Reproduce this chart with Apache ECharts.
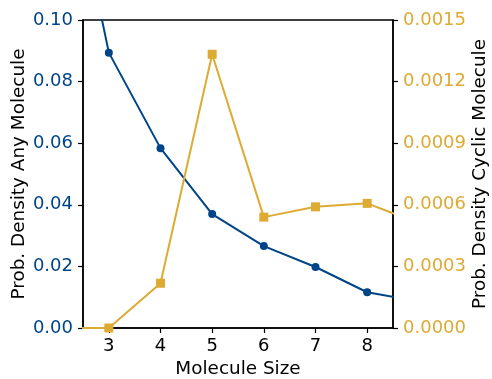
<!DOCTYPE html>
<html><head><meta charset="utf-8">
<script src="https://cdn.jsdelivr.net/npm/echarts@6/dist/echarts.min.js"></script>
<style>html,body{margin:0;padding:0;background:#fff}#c{width:492px;height:379px}</style>
</head><body><div id="c"></div>
<script>
const sizes = [2, 3, 4, 5, 6, 7, 8, 9];
const anyMolecule = [0.170, 0.0894, 0.0584, 0.0370, 0.0266, 0.0198, 0.0116, 0.0087];
const cyclicMolecule = [0, 0, 0.000218, 0.001333, 0.000540, 0.000590, 0.000607, 0.000511];
const xTicks = [3, 4, 5, 6, 7, 8];
const leftTicks = [0, 0.02, 0.04, 0.06, 0.08, 0.10];
const rightTicks = [0, 0.0003, 0.0006, 0.0009, 0.0012, 0.0015];

const BLUE = '#004488', GOLD = '#DDAA33';
const font = 'DejaVu Sans';
const FS = 18;
const NFS = 18.4;
const chart = echarts.init(document.getElementById('c'), null, {renderer: 'canvas'});
chart.setOption({
  animation: false,
  grid: {left: 83, right: 99, top: 20, bottom: 51, show: true, borderColor: '#000', borderWidth: 1.5,
    containLabel: false, outerBoundsMode: 'none'},
  xAxis: {
    type: 'value', min: 2.5, max: 8.5,
    name: 'Molecule Size', nameLocation: 'middle', nameGap: 32, nameMoveOverlap: false,
    nameTextStyle: {fontFamily: font, fontSize: NFS, color: '#000'},
    axisLine: {show: true, onZero: false, lineStyle: {color: '#000', width: 1.5}},
    axisTick: {show: true, length: 5, lineStyle: {color: '#000', width: 1.2}, customValues: xTicks},
    axisLabel: {fontFamily: font, fontSize: FS, color: '#000', margin: 9, customValues: xTicks},
    splitLine: {show: false}
  },
  yAxis: [{
    type: 'value', min: 0, max: 0.10, interval: 0.02, position: 'left',
    name: 'Prob. Density Any Molecule', nameLocation: 'middle', nameGap: 55, nameMoveOverlap: false,
    nameTextStyle: {fontFamily: font, fontSize: NFS, color: '#000'},
    axisLine: {show: true, lineStyle: {color: '#000', width: 1.5}},
    axisTick: {show: true, length: 5, lineStyle: {color: '#000', width: 1.2}, customValues: leftTicks},
    axisLabel: {fontFamily: font, fontSize: FS, color: BLUE, margin: 10, customValues: leftTicks,
      formatter: v => v.toFixed(2)},
    splitLine: {show: false}
  }, {
    type: 'value', min: 0, max: 0.0015, interval: 0.0003, position: 'right',
    name: 'Prob. Density Cyclic Molecule', nameLocation: 'middle', nameGap: 78, nameRotate: 90, nameMoveOverlap: false,
    nameTextStyle: {fontFamily: font, fontSize: NFS, color: '#000'},
    axisLine: {show: true, lineStyle: {color: '#000', width: 1.5}},
    axisTick: {show: true, length: 5, lineStyle: {color: '#000', width: 1.2}, customValues: rightTicks},
    axisLabel: {fontFamily: font, fontSize: FS, color: GOLD, margin: 10, customValues: rightTicks,
      formatter: v => v.toFixed(4)},
    splitLine: {show: false}
  }],
  series: [{
    type: 'line', yAxisIndex: 0, clip: true,
    data: sizes.map((s, i) => [s, anyMolecule[i]]),
    symbol: 'circle', symbolSize: 8, showAllSymbol: true,
    lineStyle: {color: BLUE, width: 2}, itemStyle: {color: BLUE}
  }, {
    type: 'line', yAxisIndex: 1, clip: true,
    data: sizes.map((s, i) => [s, cyclicMolecule[i]]),
    symbol: 'rect', symbolSize: 9, showAllSymbol: true,
    lineStyle: {color: GOLD, width: 2}, itemStyle: {color: GOLD}
  }]
});
</script></body></html>
